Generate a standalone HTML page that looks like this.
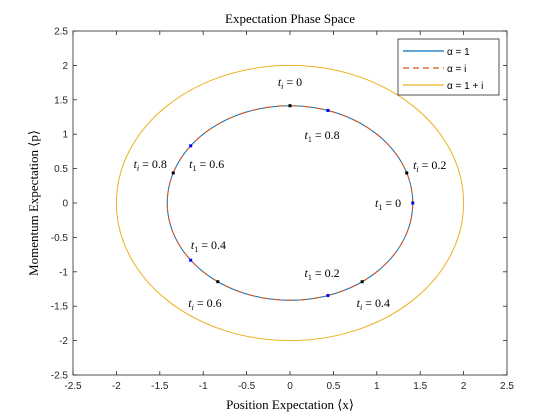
<!DOCTYPE html>
<html><head><meta charset="utf-8"><style>
body{margin:0;background:#fff}
svg{display:block;font-family:"Liberation Sans",sans-serif}
.t{font-family:"Liberation Serif",serif}
</style></head><body>
<svg id="c" width="560" height="420" viewBox="0 0 560 420">
<rect x="0" y="0" width="560" height="420" fill="#fff"/>
<g id="g"></g>
</svg>
<script>
const xTicks=[-2.5,-2,-1.5,-1,-0.5,0,0.5,1,1.5,2,2.5];
const yTicks=[-2.5,-2,-1.5,-1,-0.5,0,0.5,1,1.5,2,2.5];
const innerRadius=[Math.SQRT2];
const outerRadius=[2];
const t1Angles=[0,-72,-144,144,72];
const t1Labels=["0","0.2","0.4","0.6","0.8"];
const tiAngles=[90,18,-54,-126,162];
const tiLabels=["0","0.2","0.4","0.6","0.8"];
const t1LabelPos=[[1.13,0],[0.37,-1.02],[-0.94,-0.61],[-0.96,0.57],[0.37,0.99]];
const tiLabelPos=[[0,1.76],[1.61,0.55],[0.96,-1.45],[-0.98,-1.45],[-1.61,0.57]];
const L=73,R=507,T=31,B=375;
const sx=v=>L+(v+2.5)/5*(R-L);
const sy=v=>B-(v+2.5)/5*(B-T);
const g=document.getElementById('g');
const NS='http://www.w3.org/2000/svg';
function mk(t,a,txt,par){const e=document.createElementNS(NS,t);for(const k in a)e.setAttribute(k,a[k]);if(txt!==undefined)e.textContent=txt;(par||g).appendChild(e);return e;}
let e;
e=mk('rect',{x:L,y:T,width:R-L,height:B-T,fill:'none',stroke:'#262626','stroke-width':0.8});


xTicks.forEach(v=>{
 mk('line',{x1:sx(v),x2:sx(v),y1:B,y2:B-4,stroke:'#262626','stroke-width':0.8});
 mk('line',{x1:sx(v),x2:sx(v),y1:T,y2:T+4,stroke:'#262626','stroke-width':0.8});
 e=mk('text',{x:sx(v),y:B+14,'font-size':10,'text-anchor':'middle',fill:'#262626'},String(v));
 
 
});
yTicks.forEach(v=>{
 mk('line',{x1:L,x2:L+4,y1:sy(v),y2:sy(v),stroke:'#262626','stroke-width':0.8});
 mk('line',{x1:R,x2:R-4,y1:sy(v),y2:sy(v),stroke:'#262626','stroke-width':0.8});
 e=mk('text',{x:L-5,y:sy(v)+3.5,'font-size':10,'text-anchor':'end',fill:'#262626'},String(v));
 
 
});
function circ(r,col,dash,w,name){
 e=mk('ellipse',{cx:sx(0),cy:sy(0),rx:sx(r)-sx(0),ry:sy(0)-sy(r),fill:'none',stroke:col,'stroke-width':w});
 if(dash)e.setAttribute('stroke-dasharray',dash);
 
 
}
function lbl(p,sub,val,name){
 e=mk('text',{x:sx(p[0]),y:sy(p[1])+4,'font-size':12,'text-anchor':'middle','class':'t'});
 
 
 mk('tspan',{'font-style':'italic'},'t',e);
 mk('tspan',{'font-size':8,dy:3,'font-style':sub==='i'?'italic':'normal'},sub,e);
 mk('tspan',{dy:-3},' = '+val,e);
}
circ(outerRadius[0],'#EDB120',null,1,'series-alpha-1-plus-i');
circ(innerRadius[0],'#0072BD',null,1,'series-alpha-1');
circ(innerRadius[0],'#D95319','8 5',1,'series-alpha-i');
const r=innerRadius[0];
t1Angles.forEach((a,i)=>{
 const th=a*Math.PI/180;
 e=mk('rect',{x:sx(r*Math.cos(th))-1.5,y:sy(r*Math.sin(th))-1.5,width:3,height:3,fill:'#0000ff'});
 
 
 lbl(t1LabelPos[i],'1',t1Labels[i],'t1-label');
});
tiAngles.forEach((a,i)=>{
 const th=a*Math.PI/180;
 e=mk('rect',{x:sx(r*Math.cos(th))-1.5,y:sy(r*Math.sin(th))-1.5,width:3,height:3,fill:'#000'});
 
 
 lbl(tiLabelPos[i],'i',tiLabels[i],'ti-label');
});
e=mk('text',{x:290,y:23,'font-size':13,'text-anchor':'middle','class':'t'},'Expectation Phase Space');


e=mk('text',{x:290,y:409,'font-size':13,'text-anchor':'middle','class':'t'},'Position Expectation \u27e8x\u27e9');


e=mk('text',{x:0,y:0,'font-size':13,'text-anchor':'middle','class':'t',transform:'translate(38,203) rotate(-90)'},'Momentum Expectation \u27e8p\u27e9');


e=mk('rect',{x:398,y:39,width:101,height:56,fill:'#fff',stroke:'#262626','stroke-width':0.8});


const leg=[['#0072BD',null,'\u03b1 = 1'],['#D95319','6 4','\u03b1 = i'],['#EDB120',null,'\u03b1 = 1 + i']];
leg.forEach((l,i)=>{
 const y=51+i*17;
 e=mk('line',{x1:403,x2:444,y1:y,y2:y,stroke:l[0],'stroke-width':1.2});
 if(l[1])e.setAttribute('stroke-dasharray',l[1]);
 
 
 e=mk('text',{x:447,y:y+4,'font-size':10},l[2]);
 
 
});
</script>
</body></html>
